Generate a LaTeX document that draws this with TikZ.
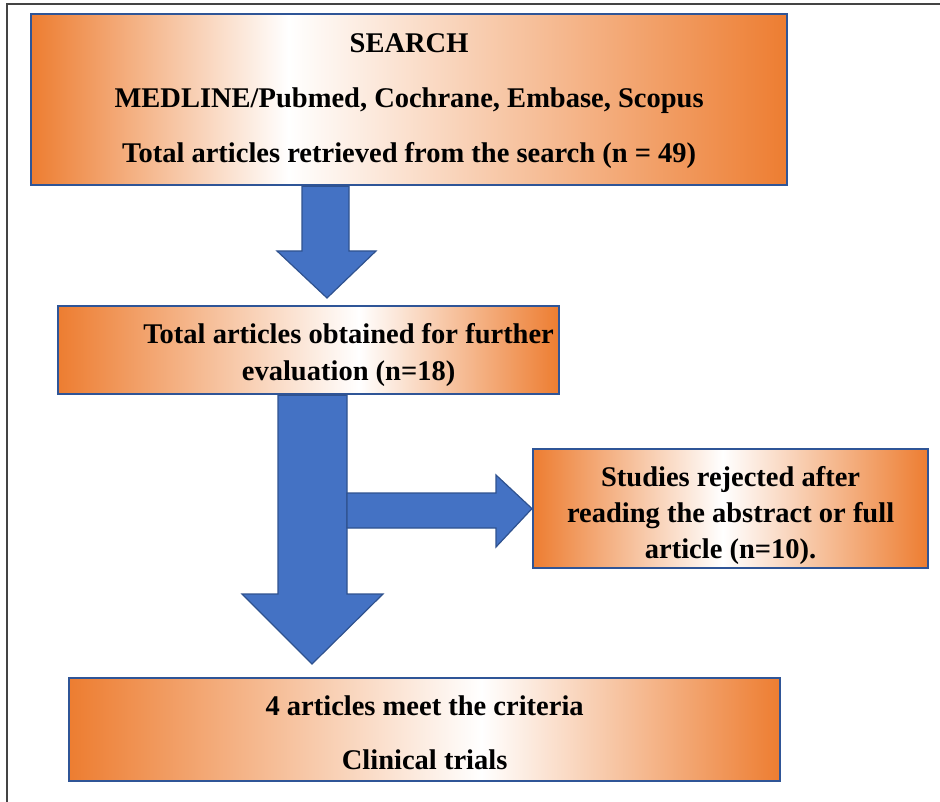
\documentclass[tikz,border=0pt]{standalone}
\usepackage{fontspec}
\setmainfont{Liberation Serif}[BoldFont={Liberation Serif Bold}]
\usetikzlibrary{calc}
\definecolor{orng}{HTML}{ED7D31}
\definecolor{arrfill}{HTML}{4472C4}
\definecolor{arrline}{HTML}{2F528F}
\definecolor{boxline}{HTML}{2F5597}
\definecolor{frameline}{HTML}{444444}
\pgfdeclarehorizontalshading{shA}{100bp}{color(0bp)=(orng); color(25bp)=(orng); color(42bp)=(white); color(75bp)=(orng); color(100bp)=(orng)}
\pgfdeclarehorizontalshading{shB}{100bp}{color(0bp)=(orng); color(25bp)=(orng); color(55bp)=(white); color(75bp)=(orng); color(100bp)=(orng)}
\pgfdeclarehorizontalshading{shC}{100bp}{color(0bp)=(orng); color(25bp)=(orng); color(49bp)=(white); color(75bp)=(orng); color(100bp)=(orng)}
\pgfdeclarehorizontalshading{shD}{100bp}{color(0bp)=(orng); color(25bp)=(orng); color(54bp)=(white); color(75bp)=(orng); color(100bp)=(orng)}
\begin{document}
\begin{tikzpicture}[x=1pt,y=-1pt,
  box/.style={draw=boxline, line width=2.2pt, anchor=north west, inner sep=0pt},
  txt/.style={align=center, inner sep=0pt},
  blk/.style={fill=arrfill, draw=arrline, line width=1.2pt, line join=miter}]
\useasboundingbox (0,0) rectangle (940,802);
\draw[frameline, line width=1.5pt] (7,802) -- (7,4) -- (940,4);

\node[box, shading=shA, minimum width=756pt, minimum height=171pt] (b1) at (30,13) {};
\node[txt, font=\fontsize{28.5}{55}\selectfont\bfseries] (t1) at ([yshift=-1.5pt]b1.center)
  {SEARCH\\MEDLINE/Pubmed, Cochrane, Embase, Scopus\\Total articles retrieved from the search (n = 49)};

\node[box, shading=shB, minimum width=501pt, minimum height=88pt] (b2) at (57,305) {};
\node[txt, font=\fontsize{28.5}{37}\selectfont\bfseries] (t2) at ([xshift=40pt,yshift=-5pt]b2.center)
  {Total articles obtained for further\\evaluation (n=18)};

\node[box, shading=shC, minimum width=395pt, minimum height=119pt] (b3) at (532,448) {};
\node[txt, font=\fontsize{28.5}{36}\selectfont\bfseries] (t3) at ([yshift=-6.5pt]b3.center)
  {Studies rejected after\\reading the abstract or full\\article (n=10).};

\node[box, shading=shD, minimum width=711pt, minimum height=103pt] (b4) at (68,677) {};
\node[txt, font=\fontsize{28.5}{54}\selectfont\bfseries] (t4) at ([yshift=-3pt]b4.center)
  {4 articles meet the criteria\\Clinical trials};

% block arrows
\draw[blk] (302,0 |- b1.south) -- (302,251) -- (277,251) -- (327,298)
  -- (376,251) -- (349,251) -- (349,0 |- b1.south) -- cycle;
\draw[blk] (278,0 |- b2.south) -- (278,594) -- (242,594) -- (312,664)
  -- (383,594) -- (347,594) -- (347,0 |- b2.south) -- cycle;
\draw[blk] (347,493) -- (496,493) -- (496,475) -- (b3.west)
  -- (496,547) -- (496,528) -- (347,528) -- cycle;
\end{tikzpicture}
\end{document}
